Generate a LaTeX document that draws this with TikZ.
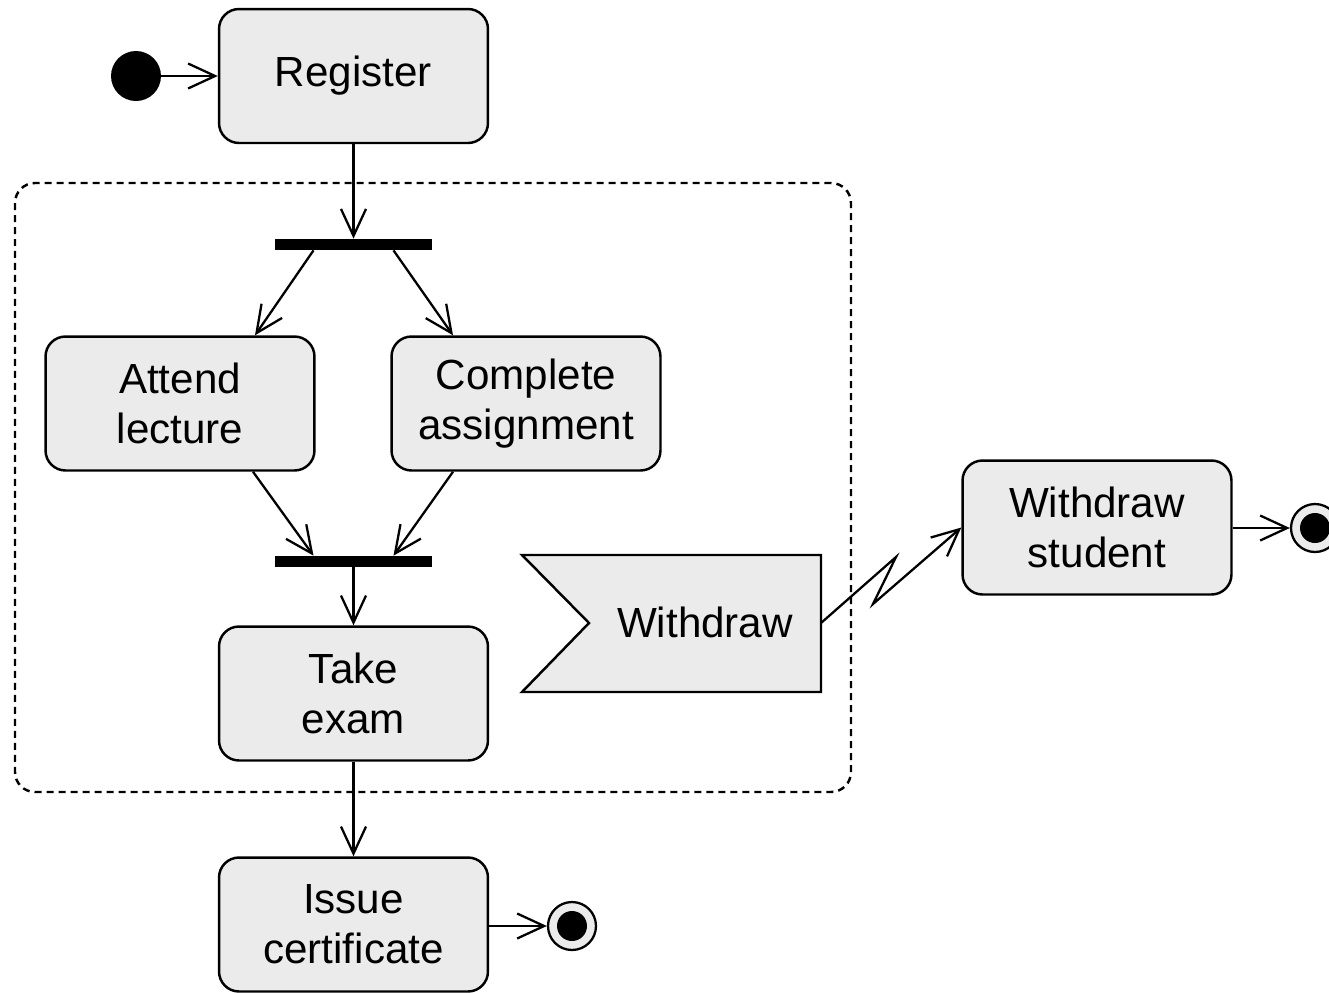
\documentclass[tikz,border=0pt]{standalone}
\usepackage{fontspec}
\setmainfont{Liberation Sans}
\usetikzlibrary{arrows.meta,calc}
\definecolor{boxfill}{HTML}{EBEBEB}
\tikzset{
  txt/.style={font=\fontsize{24}{28.5}\selectfont, align=center},
  act/.style={txt, draw=black, line width=1.4pt, fill=boxfill, rounded corners=0.4cm,
    minimum width=5.38cm, minimum height=2.68cm, inner sep=0pt},
  syncbar/.style={fill=black, draw=none, minimum width=3.16cm, minimum height=0.22cm, inner sep=0pt},
  flow/.style={line width=1.3pt, -{Straight Barb[length=0.54cm,width=0.5cm]}},
  region/.style={line width=1.4pt, rounded corners=0.4cm, dash pattern=on 0.14cm off 0.1cm},
  startnode/.style={circle, fill=black, minimum size=1cm, inner sep=0pt},
  endring/.style={circle, draw=black, line width=1.3pt, fill=boxfill, minimum size=0.96cm, inner sep=0pt},
  enddot/.style={circle, fill=black, minimum size=0.6cm, inner sep=0pt},
  signal/.style={line width=1.4pt, fill=boxfill, draw=black}
}
\begin{document}
\begin{tikzpicture}[x=0.02cm,y=-0.02cm]
\useasboundingbox (0,0) rectangle (1329,992);
\clip (0,0) rectangle (1329,992);

% interruptible region
\draw[region] (15,183) rectangle (851,792);

% nodes
\node[startnode] (start) at (136,76) {};
\node[act] (register) at (353.5,76) {Register};
\node[syncbar] (fork) at (353.5,244.5) {};
\node[act] (attend) at (180,403.5) {Attend\\lecture};
\node[act] (complete) at (526,403.5) {Complete\\assignment};
\node[syncbar] (join) at (353.5,561.5) {};
\node[act] (take) at (353.5,693.5) {Take\\exam};
\node[act] (issue) at (353.5,924.5) {Issue\\certificate};
\node[endring] (end1) at (572,926) {};
\node[enddot] (end1dot) at (end1.center) {};

% accept event signal
\draw[signal] (522,555) -- (821,555) -- (821,692) -- (522,692) -- (589,623) -- cycle;
\node[txt] (withdraw) at (705,622) {Withdraw};
\coordinate (sigE) at (821,623);
\coordinate (zz1) at (896,557);
\coordinate (zz2) at (873,604);

\node[act] (wstudent) at (1097,527.5) {Withdraw\\student};
\node[endring] (end2) at (1315,528) {};
\node[enddot] (end2dot) at (end2.center) {};

% connectors
\draw[flow] (start) -- (register.west);
\draw[flow] (register.south) -- (fork.north);
\draw[flow] ([xshift=-0.8cm]fork.south) -- ([xshift=1.5cm]attend.north);
\draw[flow] ([xshift=0.8cm]fork.south) -- ([xshift=-1.46cm]complete.north);
\draw[flow] ([xshift=1.46cm]attend.south) -- ([xshift=-0.8cm]join.north);
\draw[flow] ([xshift=-1.46cm]complete.south) -- ([xshift=0.8cm]join.north);
\draw[flow] (join.south) -- (take.north);
\draw[flow] (take.south) -- (issue.north);
\draw[flow] (issue.east |- end1.west) -- (end1.west);
\draw[flow] (sigE) -- (zz1) -- (zz2) -- (wstudent.west);
\draw[flow] (wstudent.east |- end2.west) -- (end2.west);
\end{tikzpicture}
\end{document}
